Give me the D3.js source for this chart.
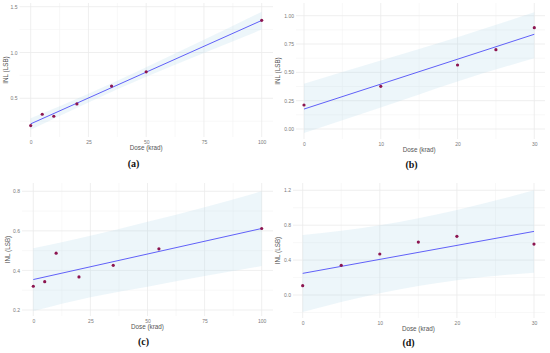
<!DOCTYPE html>
<html>
<head>
<meta charset="utf-8">
<script src="https://cdn.jsdelivr.net/npm/d3@7"></script>
<style>
  body { margin: 0; background: #fff; }
  svg { display: block; }
</style>
</head>
<body>
<div id="chart"></div>
<script>
// Panel (a)
const doseA = [0, 5, 10, 20, 35, 50, 100];
const inlA = [0.202, 0.326, 0.304, 0.439, 0.634, 0.789, 1.351];
const fitDoseA = [0, 100];
const fitA = [0.221, 1.35];
const bandDoseA = [0, 25, 50, 75, 100];
const bandLowA = [0.158, 0.455, 0.735, 0.995, 1.25];
const bandHighA = [0.282, 0.55, 0.84, 1.14, 1.446];

// Panel (b)
const doseB = [0, 10, 20, 25, 30];
const inlB = [0.212, 0.377, 0.565, 0.70, 0.894];
const fitDoseB = [0, 30];
const fitB = [0.176, 0.836];
const bandDoseB = [0, 10, 20, 30];
const bandLowB = [-0.035, 0.19, 0.42, 0.625];
const bandHighB = [0.40, 0.605, 0.81, 1.03];

// Panel (c)
const doseC = [0, 5, 10, 20, 35, 55, 100];
const inlC = [0.320, 0.343, 0.487, 0.367, 0.426, 0.509, 0.612];
const fitDoseC = [0, 100];
const fitC = [0.354, 0.612];
const bandDoseC = [0, 25, 50, 75, 100];
const bandLowC = [0.195, 0.265, 0.318, 0.372, 0.422];
const bandHighC = [0.512, 0.575, 0.646, 0.72, 0.80];

// Panel (d)
const doseD = [0, 5, 10, 15, 20, 30];
const inlD = [0.107, 0.34, 0.47, 0.607, 0.672, 0.584];
const fitDoseD = [0, 30];
const fitD = [0.248, 0.729];
const bandDoseD = [0, 10, 20, 30];
const bandLowD = [-0.195, 0.02, 0.17, 0.256];
const bandHighD = [0.688, 0.80, 0.975, 1.20];

// tick values
const xTicks100 = [0, 25, 50, 75, 100];
const xMinor100 = [12.5, 37.5, 62.5, 87.5];
const xTicks30 = [0, 10, 20, 30];
const xMinor30 = [5, 15, 25];
const yTicksA = [0.5, 1.0, 1.5];
const yMinorA = [0.25, 0.75, 1.25];
const yTicksB = [0, 0.25, 0.5, 0.75, 1.0];
const yMinorB = [0.125, 0.375, 0.625, 0.875];
const yTicksC = [0.2, 0.4, 0.6, 0.8];
const yMinorC = [0.3, 0.5, 0.7];
const yTicksD = [0, 0.4, 0.8, 1.2];
const yMinorD = [-0.2, 0.2, 0.6, 1.0];

const captions = ["(a)", "(b)", "(c)", "(d)"];

const width = 550;
const height = 353;

const svg = d3.select("#chart").append("svg").attr("width", width).attr("height", height);

function drawPanel(p) {
    const g = svg.append("g");

    const x = d3.scaleLinear().domain(p.xDom).range(p.xPx);
    const y = d3.scaleLinear().domain(p.yDom).range(p.yPx);

    // grid, minor first then major
    g.selectAll(".vminor").data(p.xMinor).enter().append("line")
        .attr("x1", d => x(d)).attr("x2", d => x(d))
        .attr("y1", p.box.top).attr("y2", p.box.bottom)
        .attr("stroke", "#f3f3f3").attr("stroke-width", 0.6);
    g.selectAll(".hminor").data(p.yMinor).enter().append("line")
        .attr("y1", d => y(d)).attr("y2", d => y(d))
        .attr("x1", p.box.left).attr("x2", p.box.right)
        .attr("stroke", "#f3f3f3").attr("stroke-width", 0.6);
    g.selectAll(".vmajor").data(p.xTicks).enter().append("line")
        .attr("x1", d => x(d)).attr("x2", d => x(d))
        .attr("y1", p.box.top).attr("y2", p.box.bottom)
        .attr("stroke", "#ebebeb").attr("stroke-width", 0.8);
    g.selectAll(".hmajor").data(p.yTicks).enter().append("line")
        .attr("y1", d => y(d)).attr("y2", d => y(d))
        .attr("x1", p.box.left).attr("x2", p.box.right)
        .attr("stroke", "#ebebeb").attr("stroke-width", 0.8);

    // confidence band
    const band = p.bandDose.map((d, i) => [d, p.bandLow[i], p.bandHigh[i]]);
    const area = d3.area()
        .x(d => x(d[0])).y0(d => y(d[1])).y1(d => y(d[2]))
        .curve(d3.curveMonotoneX);
    g.append("path").datum(band).attr("d", area).attr("fill", "#add8e6").attr("fill-opacity", 0.22);

    // fit line
    const fit = p.fitDose.map((d, i) => [d, p.fit[i]]);
    g.append("path").datum(fit)
        .attr("d", d3.line().x(d => x(d[0])).y(d => y(d[1])))
        .attr("fill", "none").attr("stroke", "#6060f8").attr("stroke-width", 1);

    // points
    g.selectAll(".pt").data(p.dose).enter().append("circle")
        .attr("cx", d => x(d)).attr("cy", (d, i) => y(p.inl[i]))
        .attr("r", 1.6).attr("fill", "#8c1550");

    // axes built from d3 axis, then stripped to the labels only
    const xAxis = g.append("g")
        .attr("transform", `translate(0, ${p.box.bottom + 5.5})`)
        .call(d3.axisBottom(x).tickValues(p.xTicks).tickSize(0).tickPadding(0).tickFormat(d3.format("d")));
    xAxis.select(".domain").remove();
    xAxis.selectAll("text").attr("dy", "0.35em").attr("fill", "#7a7a7a")
        .style("font-family", "Liberation Sans, Arial, sans-serif").style("font-size", "5px");

    const yAxis = g.append("g")
        .attr("transform", `translate(${p.box.left - 2}, 0)`)
        .call(d3.axisLeft(y).tickValues(p.yTicks).tickSize(0).tickPadding(0).tickFormat(d3.format(p.yFmt)));
    yAxis.select(".domain").remove();
    yAxis.selectAll("text").attr("fill", "#7a7a7a")
        .style("font-family", "Liberation Sans, Arial, sans-serif").style("font-size", "5px");

    // axis titles
    g.append("text").attr("x", (x(p.xDom[0]) + x(p.xDom[1])) / 2).attr("y", p.xTitleY)
        .attr("text-anchor", "middle").attr("dominant-baseline", "middle")
        .style("font-family", "Liberation Sans, Arial, sans-serif").style("font-size", "6.3px")
        .attr("fill", "#555").text("Dose (krad)");
    g.append("text")
        .attr("transform", `translate(${p.yTitleX}, ${(p.box.top + p.box.bottom) / 2}) rotate(-90)`)
        .attr("text-anchor", "middle").attr("dominant-baseline", "middle")
        .style("font-family", "Liberation Sans, Arial, sans-serif").style("font-size", "6.3px")
        .attr("fill", "#555").text("INL (LSB)");

    // caption
    g.append("text").attr("x", p.capX).attr("y", p.capY)
        .attr("text-anchor", "middle").attr("dominant-baseline", "middle")
        .style("font-family", "Liberation Serif, Times New Roman, serif").style("font-size", "10px")
        .style("font-weight", "bold").attr("fill", "#111").text(p.caption);
}

drawPanel({
    dose: doseA, inl: inlA, fitDose: fitDoseA, fit: fitA,
    bandDose: bandDoseA, bandLow: bandLowA, bandHigh: bandHighA,
    xTicks: xTicks100, xMinor: xMinor100, yTicks: yTicksA, yMinor: yMinorA, yFmt: ".1f",
    xDom: [0, 100], xPx: [30.7, 261.7], yDom: [0.5, 1.5], yPx: [98.3, 6.7],
    box: { left: 19.5, right: 273, top: 3, bottom: 137 },
    xTitleY: 148.5, yTitleX: 6.5, capX: 133.5, capY: 165, caption: captions[0]
});

drawPanel({
    dose: doseB, inl: inlB, fitDose: fitDoseB, fit: fitB,
    bandDose: bandDoseB, bandLow: bandLowB, bandHigh: bandHighB,
    xTicks: xTicks30, xMinor: xMinor30, yTicks: yTicksB, yMinor: yMinorB, yFmt: ".2f",
    xDom: [0, 30], xPx: [304, 534.3], yDom: [0, 1], yPx: [129, 15.7],
    box: { left: 296, right: 545, top: 3, bottom: 139 },
    xTitleY: 150.5, yTitleX: 278.5, capX: 411.5, capY: 165.5, caption: captions[1]
});

drawPanel({
    dose: doseC, inl: inlC, fitDose: fitDoseC, fit: fitC,
    bandDose: bandDoseC, bandLow: bandLowC, bandHigh: bandHighC,
    xTicks: xTicks100, xMinor: xMinor100, yTicks: yTicksC, yMinor: yMinorC, yFmt: ".1f",
    xDom: [0, 100], xPx: [33.3, 261.7], yDom: [0.2, 0.8], yPx: [310, 191.3],
    box: { left: 22, right: 273, top: 183, bottom: 316 },
    xTitleY: 327.5, yTitleX: 8.5, capX: 143.5, capY: 342.5, caption: captions[2]
});

drawPanel({
    dose: doseD, inl: inlD, fitDose: fitDoseD, fit: fitD,
    bandDose: bandDoseD, bandLow: bandLowD, bandHigh: bandHighD,
    xTicks: xTicks30, xMinor: xMinor30, yTicks: yTicksD, yMinor: yMinorD, yFmt: ".1f",
    xDom: [0, 30], xPx: [302.7, 534], yDom: [0, 1.2], yPx: [295, 190.3],
    box: { left: 293, right: 545, top: 183, bottom: 318 },
    xTitleY: 329, yTitleX: 278.5, capX: 408.5, capY: 344, caption: captions[3]
});
</script>
</body>
</html>
